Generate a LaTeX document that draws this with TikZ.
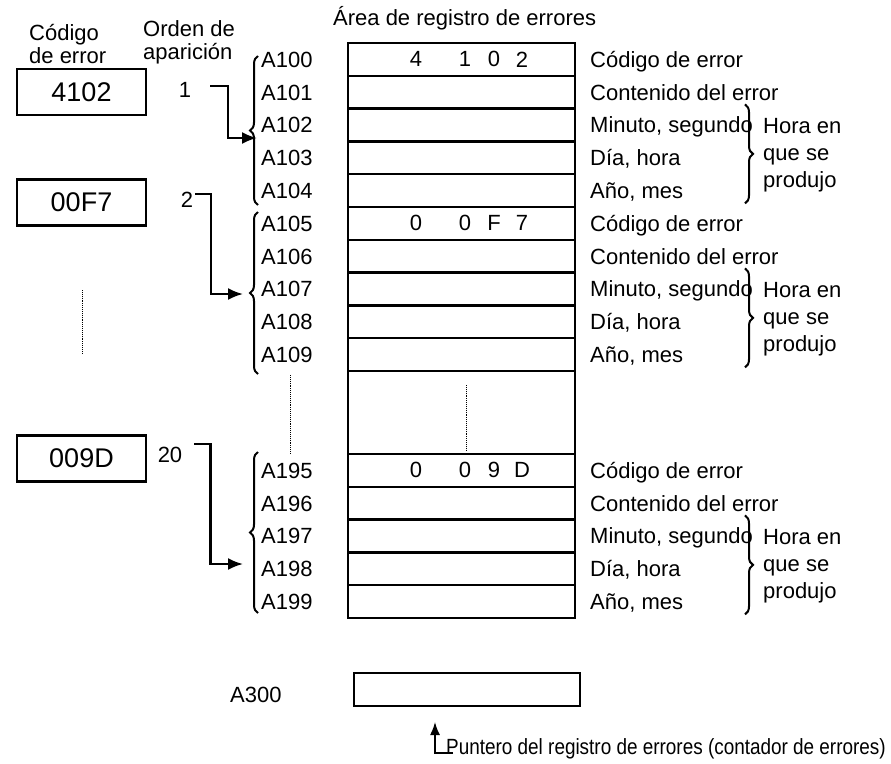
\documentclass[tikz,border=0pt]{standalone}
\usepackage{fontspec}
\setmainfont{Liberation Sans}
\newfontfamily\narrowfont[FakeStretch=0.86]{Liberation Sans}
\usepackage{tikz}
\usetikzlibrary{arrows.meta, decorations.pathreplacing}

\begin{document}
\begin{tikzpicture}[>={Latex[length=15pt, width=12pt]}, x=1pt, y=-1pt,
    every node/.style={font=\fontsize{22}{26}\selectfont, inner sep=0pt},
    lab/.style={anchor=west, text height=15.8pt, text depth=0pt},
    cell/.style={line width=2.3pt},
    codebox/.style={draw, line width=2.4pt, minimum width=129pt, minimum height=46pt,
                    font=\fontsize{27}{30}\selectfont},
    link/.style={->, line width=2.2pt},
    brc/.style={decorate, decoration={brace, amplitude=8pt}, line width=2pt},
    gap/.style={densely dotted, line width=0.9pt}]

\useasboundingbox (0,0) rectangle (891,763);

% Headers
\node[anchor=west, align=left, font=\fontsize{22}{23}\selectfont] (hcode) at (29,44) {Código\\de error};
\node[anchor=west, align=left, font=\fontsize{22}{23}\selectfont] (horder) at (143,42) {Orden de\\aparición};
\node[lab] (harea) at (333,18) {Área de registro de errores};

% Error codes and order
\node[codebox] (e1) at (81.5,92) {4102};
\node[codebox] (e2) at (81.5,202.5) {00F7};
\node[codebox] (e20) at (81.5,458.5) {009D};
\node (n1) at (185,90) {1};
\node (n2) at (187,200) {2};
\node (n20) at (170,455) {20};
\draw[gap] (82,290) -- (82,353);

% Error log area
\draw[cell] (348,43) rectangle (575,618);
\foreach \k in {1,...,10} \draw[cell] (348,{43+32.8*\k}) -- (575,{43+32.8*\k});
\foreach \k in {0,...,4} \draw[cell] (348,{454+32.8*\k}) -- (575,{454+32.8*\k});
\draw[gap] (466,385) -- (466,450);
\draw[gap] (290,375) -- (290,453);

\foreach \d/\x in {4/416, 1/465, 0/494, 2/522} \node (ha-\x) at (\x,59.4) {\d};
\foreach \d/\x in {0/416, 0/465, F/494, 7/522} \node (hb-\x) at (\x,223.4) {\d};
\foreach \d/\x in {0/416, 0/465, 9/494, D/522} \node (hc-\x) at (\x,470.4) {\d};

% Addresses
\foreach \k in {0,...,9} \node[lab] (a10\k) at (261,{59.4+32.8*\k}) {A10\k};
\foreach \k in {5,...,9} \node[lab] (a19\k) at (261,{470.4+32.8*(\k-5)}) {A19\k};
\draw[brc] (258,205) -- (258,56);
\draw[brc] (258,374) -- (258,212);
\draw[brc] (258,613) -- (258,452);

% Contents
\foreach \g/\y in {1/59.4, 2/223.4, 3/470.4} {
  \node[lab] (cod\g) at (590,\y) {Código de error};
  \node[lab] (con\g) at (590,{\y+32.8}) {Contenido del error};
  \node[lab] (min\g) at (590,{\y+65.6}) {Minuto, segundo};
  \node[lab] (dia\g) at (590,{\y+98.4}) {Día, hora};
  \node[lab] (ano\g) at (590,{\y+131.2}) {Año, mes};
  \draw[brc] (745,{\y+45}) -- (745,{\y+144});
  \node[anchor=west, align=left, font=\fontsize{22}{27}\selectfont] (hora\g) at (763,{\y+96}) {Hora en\\que se\\produjo};
}

% Arrows
\coordinate (in1) at (257,138);
\coordinate (in2) at (243,294);
\coordinate (in20) at (243,564);
\draw[link] (n1.east) ++(19,-4) -- ++(18,0) |- (in1);
\draw[link] (n2.east) ++(2,-6) -- ++(16,0) |- (in2);
\draw[link] (n20.east) ++(12,-11) -- ++(16,0) |- (in20);

% Pointer
\node[lab] (a300) at (230,695) {A300};
\node[draw, line width=1.1pt, minimum width=226pt, minimum height=33pt] (preg) at (467,689.5) {};
\coordinate (ptr) at (435,722);
\node[anchor=west, font=\narrowfont\fontsize{22}{26}\selectfont] (ptext) at (446,749)
  {Puntero del registro de errores (contador de errores)};
\draw[->, line width=1.6pt, >={Latex[length=13pt, width=10pt]}] ([xshift=7pt, yshift=-4pt]ptext.west) -| (ptr);

\end{tikzpicture}
\end{document}
